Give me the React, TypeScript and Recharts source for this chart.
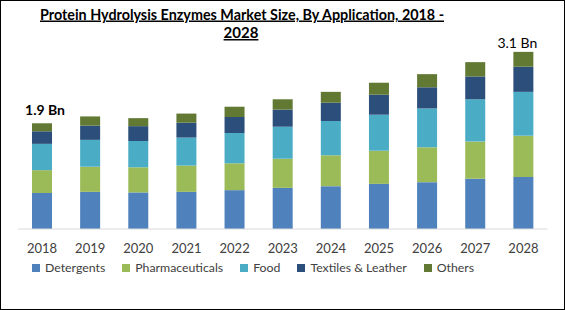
import React from 'react';
import { BarChart, Bar, XAxis, YAxis, LabelList } from 'recharts';

// values in USD Bn
const years = ['2018', '2019', '2020', '2021', '2022', '2023', '2024', '2025', '2026', '2027', '2028'];
const detergents = [0.63, 0.65, 0.64, 0.65, 0.68, 0.72, 0.75, 0.79, 0.82, 0.88, 0.91];
const pharmaceuticals = [0.40, 0.44, 0.44, 0.46, 0.47, 0.51, 0.54, 0.58, 0.61, 0.65, 0.72];
const food = [0.46, 0.47, 0.46, 0.49, 0.53, 0.56, 0.60, 0.63, 0.68, 0.74, 0.77];
const textiles = [0.22, 0.25, 0.26, 0.26, 0.28, 0.30, 0.32, 0.35, 0.37, 0.40, 0.44];
const others = [0.14, 0.16, 0.14, 0.16, 0.18, 0.18, 0.19, 0.21, 0.23, 0.25, 0.26];
const totalLabels = ['1.9 Bn', '', '', '', '', '', '', '', '', '', '3.1 Bn'];

const series = [
  { key: 'detergents', name: 'Detergents', color: '#4f81bd' },
  { key: 'pharmaceuticals', name: 'Pharmaceuticals', color: '#9bbb59' },
  { key: 'food', name: 'Food', color: '#4bacc6' },
  { key: 'textiles', name: 'Textiles & Leather', color: '#2c4e7a' },
  { key: 'others', name: 'Others', color: '#627934' },
];

const data = years.map((year, i) => ({
  year,
  detergents: detergents[i],
  pharmaceuticals: pharmaceuticals[i],
  food: food[i],
  textiles: textiles[i],
  others: others[i],
  label: totalLabels[i],
}));

const FONT = 'Lato, "Open Sans", sans-serif';

const TotalLabel = (props: any) => {
  const { x, y, width, value, index } = props;
  if (!value) return null;
  const first = index === 0;
  return (
    <text
      x={x + width / 2 + (first ? 3 : -6)}
      y={y - (first ? 8 : 4)}
      textAnchor="middle"
      fontFamily={FONT}
      fontSize={14}
      fontWeight={first ? 700 : 400}
      fill="#000"
    >
      {value}
    </text>
  );
};

const App: React.FC = () => {
  return (
    <div
      style={{
        position: 'absolute',
        left: 0,
        top: 0,
        width: 565,
        height: 310,
        boxSizing: 'border-box',
        border: '1px solid #000',
        background: '#fff',
        overflow: 'hidden',
      }}
    >
      <svg width={565} height={50} style={{ position: 'absolute', left: -1, top: -1 }}>
        <text
          x={242}
          y={19.5}
          textAnchor="middle"
          fontFamily={FONT}
          fontSize={15}
          fontWeight={700}
          textDecoration="underline"
          textLength={404}
          lengthAdjust="spacingAndGlyphs"
        >
          Protein Hydrolysis Enzymes Market Size, By Application, 2018 -
        </text>
        <text
          x={241}
          y={38}
          textAnchor="middle"
          fontFamily={FONT}
          fontSize={15}
          fontWeight={700}
          textDecoration="underline"
        >
          2028
        </text>
      </svg>

      <div style={{ position: 'absolute', left: -1, top: -1 }}>
        <BarChart
          width={565}
          height={310}
          data={data}
          margin={{ top: 29, right: 17.5, left: 18, bottom: 51 }}
          barSize={20}
        >
          <XAxis
            dataKey="year"
            axisLine={{ stroke: '#d9d9d9' }}
            tickLine={false}
            tickMargin={9}
            height={30}
            interval={0}
            tick={{ fill: '#404040', fontSize: 13, fontFamily: FONT }}
          />
          <YAxis hide domain={[0, 3.5]} />
          {series.map((s, idx) => (
            <Bar
              key={s.key}
              dataKey={s.key}
              name={s.name}
              stackId="a"
              fill={s.color}
              isAnimationActive={false}
            >
              {idx === series.length - 1 && (
                <LabelList dataKey="label" content={<TotalLabel />} />
              )}
            </Bar>
          ))}
        </BarChart>
      </div>

      <div
        style={{
          position: 'absolute',
          left: 31,
          top: 259,
          display: 'flex',
          alignItems: 'center',
          gap: 17,
          fontFamily: FONT,
          fontSize: 12.3,
          color: '#404040',
          whiteSpace: 'nowrap',
        }}
      >
        {series.map((s) => (
          <div key={s.key} style={{ display: 'flex', alignItems: 'center' }}>
            <span
              style={{ width: 8, height: 8, background: s.color, marginRight: 5, display: 'inline-block' }}
            />
            <span>{s.name}</span>
          </div>
        ))}
      </div>
    </div>
  );
};

export default App;
